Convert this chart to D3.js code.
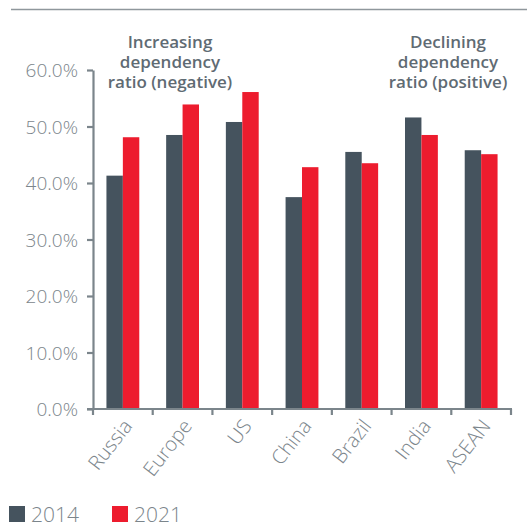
<!DOCTYPE html>
<html><head><meta charset="utf-8">
<script src="https://cdn.jsdelivr.net/npm/d3@7"></script>
<style>body{margin:0;background:#fff}svg{display:block}</style>
</head><body>
<script>
const categories = ["Russia","Europe","US","China","Brazil","India","ASEAN"];
const series = ["2014","2021"];
const values2014 = [41.3,48.5,50.8,37.5,45.5,51.6,45.8];
const values2021 = [48.1,53.9,56.1,42.8,43.5,48.5,45.1];
const yTicks = [0,10,20,30,40,50,60];
const annotations = [
  {lines:["Increasing","dependency","ratio (negative)"], cx:170},
  {lines:["Declining","dependency","ratio (positive)"], cx:448}
];
const colors = {"2014":"#45535e","2021":"#ed1c2e"};

const W=527,H=523;
const svg=d3.select("body").append("svg").attr("width",W).attr("height",H);
const axisColor="#7b858b", textColor="#7b858b", annColor="#5f6b73";
const font="'Open Sans', sans-serif";

// top rule
svg.append("line").attr("x1",11).attr("x2",527).attr("y1",9.5).attr("y2",9.5)
  .attr("stroke","#8f979c").attr("stroke-width",1.5);

const x0=d3.scaleBand().domain(categories).range([93,511]).paddingInner(0.45).paddingOuter(0.225);
const x1=d3.scaleBand().domain(series).range([0,x0.bandwidth()]);
const y=d3.scaleLinear().domain([0,60]).range([409,70]);

const data=categories.map((c,i)=>({c,v:{"2014":values2014[i],"2021":values2021[i]}}));

svg.append("g").selectAll("g.cat").data(data).join("g").attr("class","cat")
  .attr("transform",d=>`translate(${x0(d.c)},0)`)
  .selectAll("rect").data(d=>series.map(s=>({s,v:d.v[s]}))).join("rect")
  .attr("x",d=>x1(d.s)).attr("width",x1.bandwidth())
  .attr("y",d=>y(d.v)).attr("height",d=>y(0)-y(d.v))
  .attr("fill",d=>colors[d.s]);

// y axis
const yAxis=svg.append("g").attr("transform","translate(93,0)")
  .call(d3.axisLeft(y).tickValues(yTicks).tickFormat(d=>d3.format(".1f")(d)+"%").tickSize(6).tickSizeOuter(0));
yAxis.select(".domain").attr("stroke",axisColor).attr("stroke-width",2.2);
yAxis.selectAll(".tick line").attr("stroke",axisColor).attr("stroke-width",2.2);
yAxis.selectAll(".tick text").attr("fill",textColor).attr("font-family",font).attr("font-weight",300)
  .attr("font-size",19).attr("x",-15).attr("dy","0.35em");

// x axis
const step=x0.step();
const bounds=d3.range(categories.length+1).map(i=>x0.range()[0]+i*step);
svg.append("line").attr("x1",87).attr("x2",bounds[bounds.length-1]+1).attr("y1",409).attr("y2",409)
  .attr("stroke",axisColor).attr("stroke-width",2.2);
svg.selectAll("line.xt").data(bounds).join("line").attr("class","xt")
  .attr("x1",d=>d).attr("x2",d=>d).attr("y1",409).attr("y2",415)
  .attr("stroke",axisColor).attr("stroke-width",2.2);
svg.selectAll("text.xl").data(categories).join("text").attr("class","xl")
  .attr("transform",d=>`translate(${x0(d)+x0.bandwidth()/2+5},${422}) rotate(-52)`)
  .attr("text-anchor","end").attr("dy","0.35em")
  .attr("fill",textColor).attr("font-family",font).attr("font-weight",300).attr("font-size",20)
  .text(d=>d);

// annotations
annotations.forEach(a=>{
  const t=svg.append("text").attr("text-anchor","middle").attr("fill",annColor)
    .attr("font-family",font).attr("font-weight",600).attr("font-size",17);
  a.lines.forEach((l,i)=>t.append("tspan").attr("x",a.cx).attr("y",48+i*20).text(l));
});

// legend
const leg=svg.append("g");
series.forEach((s,i)=>{
  const lx=9+i*103;
  leg.append("rect").attr("x",lx).attr("y",506).attr("width",16).attr("height",16).attr("fill",colors[s]);
  leg.append("text").attr("x",lx+22).attr("y",522).attr("fill",textColor).attr("font-family",font)
    .attr("font-weight",300).attr("font-size",21).text(s);
});
</script>
</body></html>
